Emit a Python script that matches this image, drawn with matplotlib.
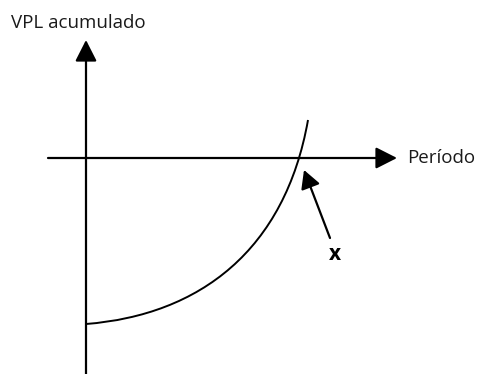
import matplotlib
matplotlib.use("Agg")
import matplotlib.pyplot as plt
from matplotlib.path import Path
from matplotlib.patches import PathPatch

# curva do VPL acumulado: bezier cubica (inicio, controles, fim) em pixels da figura
curva_x = [86, 200, 285, 308]
curva_y = [324, 315, 250, 120]

titulo_y = "VPL acumulado"
titulo_x = "Período"
marca = "x"

plt.rcParams['font.family'] = ['Open Sans', 'DejaVu Sans']

fig = plt.figure(figsize=(4.78, 3.74), dpi=100)
ax = fig.add_axes([0, 0, 1, 1])
ax.set_xlim(0, 478)
ax.set_ylim(374, 0)
ax.axis('off')

seta = dict(arrowstyle='-|>,head_length=0.65,head_width=0.33', mutation_scale=20,
            lw=1.6, color='black', shrinkA=0, shrinkB=0)

# eixos
ax.annotate('', xy=(86, 40), xytext=(86, 374), arrowprops=seta)
ax.annotate('', xy=(397, 158), xytext=(48, 158), arrowprops=seta)

# curva
caminho = Path(list(zip(curva_x, curva_y)),
               [Path.MOVETO, Path.CURVE4, Path.CURVE4, Path.CURVE4])
ax.add_patch(PathPatch(caminho, facecolor='none', edgecolor='black', lw=1.4))

# seta indicando o ponto x
seta2 = dict(arrowstyle='-|>,head_length=0.55,head_width=0.3', mutation_scale=20,
             lw=1.6, color='black', shrinkA=0, shrinkB=0)
ax.annotate('', xy=(304, 170), xytext=(330, 238), arrowprops=seta2)

ax.text(11, 23, titulo_y, fontsize=13.5, va='center', ha='left', color='#1a1a1a')
ax.text(407, 158, titulo_x, fontsize=13.5, va='center', ha='left', color='#1a1a1a')
ax.text(335, 254, marca, fontsize=15, va='center', ha='center', fontweight='bold')

fig.savefig('out.png', dpi=100)
